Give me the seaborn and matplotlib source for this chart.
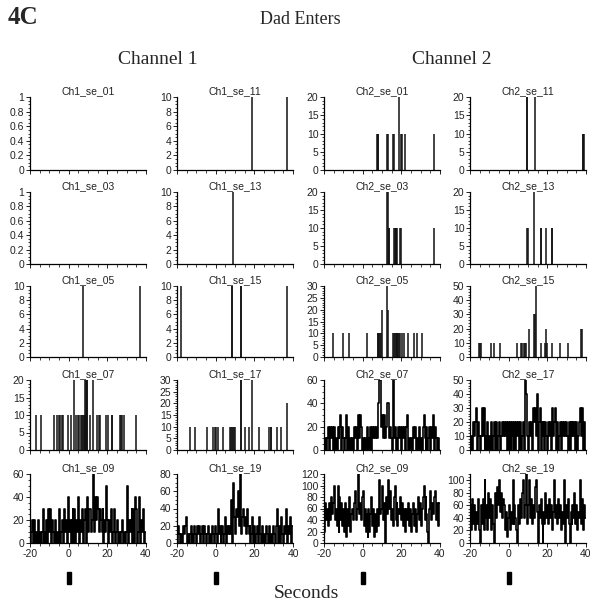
import numpy as np
import pandas as pd
import matplotlib
matplotlib.use('Agg')
import matplotlib.pyplot as plt
import seaborn as sns
from matplotlib.ticker import MultipleLocator, AutoMinorLocator, FuncFormatter
from matplotlib.transforms import blended_transform_factory
from matplotlib.patches import Rectangle

sns.set_style('ticks')
plt.rcParams['font.family'] = ['Liberation Sans', 'DejaVu Sans']
plt.rcParams['axes.unicode_minus'] = False

# ---- sparse panels: spike times (s) and bar heights ----
ch1_se_11_t = [18.9, 37.0]
ch1_se_11_h = [10, 10]
ch1_se_13_t = [9.0]
ch1_se_13_h = [10]
ch1_se_05_t = [7.5, 37.0]
ch1_se_05_h = [10, 10]
ch1_se_15_t = [-18.0, 8.4, 8.7, 13.0, 13.2, 37.1]
ch1_se_15_h = [10, 10, 10, 10, 10, 10]
ch1_se_07_t = [-16.9, -14.5, -7.4, -5.9, -4.8, -4.3, -3.6, -3.1, -0.2, 1.1, 2.8, 3.8,
               5.0, 5.6, 6.3, 7.0, 7.4, 7.8, 8.2, 8.5, 8.9, 9.3, 9.7, 11.1, 12.5,
               14.9, 15.5, 16.3, 19.4, 20.4, 22.2, 22.5, 26.3, 27.0, 27.8, 28.7, 34.9]
ch1_se_07_h = [10, 10, 10, 10, 10, 10, 10, 10, 10, 10, 20, 10,
               10, 10, 10, 10, 10, 10, 10, 20, 20, 20, 20, 10, 20,
               10, 10, 10, 10, 10, 10, 10, 10, 10, 10, 10, 10]
ch1_se_17_t = [-13.3, -10.7, -4.3, -1.2, -0.6, 0.2, 1.4, 3.7, 7.5, 8.1, 8.6, 9.1, 9.6,
               10.0, 12.9, 13.2, 15.4, 17.1, 19.0, 22.5, 27.8, 28.4, 28.8, 31.6, 33.7, 37.1]
ch1_se_17_h = [10, 10, 10, 10, 10, 10, 10, 10, 10, 10, 10, 10, 10,
               10, 30, 30, 10, 10, 30, 10, 10, 10, 10, 10, 10, 20]
ch2_se_01_t = [7.5, 7.8, 8.1, 12.8, 13.1, 15.8, 16.1, 19.0, 20.0, 20.3, 22.0, 37.0]
ch2_se_01_h = [10, 10, 10, 10, 10, 10, 10, 20, 10, 10, 10, 10]
ch2_se_11_t = [9.3, 9.6, 13.8, 38.3, 38.6, 38.9]
ch2_se_11_h = [20, 20, 20, 10, 10, 10]
ch2_se_03_t = [12.7, 13.0, 13.4, 13.7, 16.2, 16.6, 17.0, 17.4, 18.0, 19.3, 19.6, 37.0]
ch2_se_03_h = [20, 20, 10, 10, 10, 10, 10, 10, 10, 10, 10, 10]
ch2_se_13_t = [9.5, 9.8, 13.3, 16.6, 16.9, 19.3, 22.3, 22.6]
ch2_se_13_h = [10, 10, 20, 10, 10, 10, 10, 10]
ch2_se_05_t = [-15.5, -10.0, -7.2, 2.1, 7.8, 8.1, 8.4, 8.8, 9.3, 10.0, 12.8, 13.3,
               15.6, 16.0, 16.5, 17.0, 17.5, 18.0, 18.5, 19.0, 19.5, 20.2, 21.5,
               23.2, 26.3, 28.0, 30.8]
ch2_se_05_h = [10, 10, 10, 10, 10, 10, 10, 10, 10, 20, 30, 20,
               10, 10, 10, 10, 10, 10, 10, 10, 10, 10, 10,
               10, 10, 10, 10]
ch2_se_15_t = [-15.2, -14.8, -14.4, -9.0, -7.6, -4.3, 4.5, 6.3, 7.0, 7.8, 8.4, 9.0,
               10.6, 13.3, 13.7, 14.0, 16.8, 19.0, 19.4, 19.8, 22.3, 26.6, 30.6, 37.6, 38.1]
ch2_se_15_h = [10, 10, 10, 10, 10, 10, 10, 10, 10, 10, 10, 10,
               20, 30, 30, 50, 10, 10, 20, 10, 10, 10, 10, 20, 20]

# ---- dense panels: rate per 0.5 s bin, -20 s to 40 s ----
ch1_se_09 = [0, 10, 20, 0, 20, 0, 10, 0, 20, 0,
             10, 0, 10, 30, 0, 10, 0, 20, 0, 30,
             10, 30, 0, 20, 10, 0, 20, 0, 10, 0,
             30, 0, 10, 20, 0, 30, 10, 20, 0, 40,
             10, 20, 0, 20, 30, 0, 30, 0, 20, 10,
             40, 0, 20, 10, 30, 0, 20, 30, 0, 40,
             10, 30, 30, 10, 20, 60, 10, 40, 20, 40,
             30, 10, 30, 20, 10, 30, 0, 20, 10, 50,
             20, 0, 20, 10, 30, 0, 10, 30, 0, 10,
             20, 0, 10, 0, 10, 20, 0, 10, 0, 10,
             50, 0, 20, 10, 20, 30, 0, 30, 0, 40,
             30, 0, 10, 40, 0, 20, 10, 30, 0, 10]
ch1_se_19 = [0, 20, 10, 0, 10, 0, 20, 10, 20, 30,
             0, 10, 0, 10, 20, 0, 10, 0, 20, 10,
             0, 20, 10, 20, 0, 10, 20, 0, 20, 10,
             0, 10, 20, 0, 10, 0, 20, 10, 0, 20,
             10, 0, 40, 10, 20, 0, 10, 20, 0, 10,
             30, 0, 20, 10, 20, 10, 50, 0, 70, 30,
             10, 40, 30, 60, 20, 80, 10, 30, 40, 20,
             30, 10, 40, 20, 10, 20, 0, 10, 30, 0,
             20, 0, 10, 20, 0, 30, 10, 0, 20, 0,
             10, 0, 20, 10, 0, 20, 0, 10, 0, 20,
             10, 0, 20, 40, 0, 10, 20, 0, 30, 10,
             0, 20, 10, 40, 0, 20, 10, 30, 0, 20]
ch2_se_07 = [0, 10, 0, 10, 20, 0, 20, 10, 20, 0,
             20, 0, 10, 0, 20, 10, 20, 30, 0, 20,
             10, 0, 10, 30, 0, 20, 0, 10, 0, 10,
             0, 20, 10, 20, 0, 30, 10, 30, 20, 0,
             10, 0, 10, 0, 20, 0, 10, 0, 20, 0,
             20, 10, 20, 10, 20, 10, 40, 60, 60, 20,
             30, 10, 30, 10, 20, 40, 40, 10, 20, 10,
             0, 60, 10, 20, 0, 10, 0, 20, 10, 20,
             0, 20, 10, 20, 0, 20, 30, 0, 10, 0,
             10, 0, 20, 10, 20, 0, 10, 0, 20, 0,
             10, 0, 20, 30, 10, 0, 20, 0, 10, 20,
             0, 20, 10, 30, 0, 20, 10, 0, 10, 0]
ch2_se_17 = [0, 10, 0, 20, 10, 20, 30, 0, 20, 10,
             0, 10, 30, 10, 30, 0, 10, 0, 20, 0,
             10, 0, 20, 0, 10, 20, 0, 20, 0, 10,
             20, 0, 10, 20, 10, 20, 10, 20, 0, 20,
             0, 20, 0, 20, 10, 0, 20, 0, 20, 10,
             20, 0, 20, 0, 10, 20, 0, 50, 40, 10,
             0, 20, 10, 20, 0, 30, 20, 30, 10, 40,
             0, 20, 30, 0, 20, 10, 20, 0, 20, 10,
             0, 20, 10, 20, 0, 30, 10, 20, 30, 0,
             20, 0, 10, 20, 0, 20, 10, 20, 10, 20,
             10, 0, 20, 0, 20, 10, 20, 10, 20, 0,
             20, 0, 10, 20, 30, 10, 30, 0, 20, 0]
ch2_se_09 = [20, 70, 40, 60, 30, 70, 40, 80, 50, 70,
             100, 40, 60, 30, 100, 20, 80, 40, 70, 30,
             60, 20, 70, 10, 60, 30, 80, 20, 50, 60,
             40, 70, 90, 40, 60, 120, 50, 70, 40, 80,
             90, 30, 60, 20, 50, 10, 60, 20, 50, 80,
             30, 60, 10, 50, 20, 60, 30, 110, 50, 60,
             100, 40, 70, 0, 80, 50, 110, 60, 90, 40,
             60, 30, 80, 100, 40, 70, 30, 60, 50, 80,
             40, 70, 30, 60, 20, 60, 40, 70, 30, 60,
             20, 50, 70, 30, 60, 20, 50, 80, 40, 70,
             30, 60, 80, 100, 40, 80, 50, 20, 0, 60,
             90, 40, 70, 50, 80, 90, 40, 70, 30, 70]
ch2_se_19 = [60, 20, 70, 30, 60, 20, 50, 30, 70, 20,
             0, 60, 30, 70, 20, 100, 40, 60, 20, 80,
             40, 70, 20, 60, 30, 0, 80, 40, 90, 60,
             100, 50, 80, 40, 70, 60, 20, 50, 10, 40,
             60, 20, 50, 30, 100, 30, 60, 40, 20, 0,
             60, 30, 70, 40, 80, 100, 40, 60, 110, 30,
             60, 100, 40, 70, 30, 60, 40, 90, 100, 50,
             0, 60, 40, 70, 30, 0, 50, 30, 80, 40,
             60, 30, 70, 40, 60, 20, 50, 100, 40, 60,
             30, 70, 40, 60, 20, 50, 30, 100, 0, 60,
             40, 70, 30, 0, 50, 30, 60, 40, 80, 30,
             60, 20, 50, 40, 100, 30, 70, 20, 60, 40]

# event marker (Dad enters) in seconds
event_on, event_off = -1.0, 1.0

# grid: (title, data, ymax, ystep) row by row
grid = [
    [('Ch1_se_01', None, 1, 0.2), ('Ch1_se_11', (ch1_se_11_t, ch1_se_11_h), 10, 2),
     ('Ch2_se_01', (ch2_se_01_t, ch2_se_01_h), 20, 5), ('Ch2_se_11', (ch2_se_11_t, ch2_se_11_h), 20, 5)],
    [('Ch1_se_03', None, 1, 0.2), ('Ch1_se_13', (ch1_se_13_t, ch1_se_13_h), 10, 2),
     ('Ch2_se_03', (ch2_se_03_t, ch2_se_03_h), 20, 5), ('Ch2_se_13', (ch2_se_13_t, ch2_se_13_h), 20, 5)],
    [('Ch1_se_05', (ch1_se_05_t, ch1_se_05_h), 10, 2), ('Ch1_se_15', (ch1_se_15_t, ch1_se_15_h), 10, 2),
     ('Ch2_se_05', (ch2_se_05_t, ch2_se_05_h), 30, 5), ('Ch2_se_15', (ch2_se_15_t, ch2_se_15_h), 50, 10)],
    [('Ch1_se_07', (ch1_se_07_t, ch1_se_07_h), 20, 5), ('Ch1_se_17', (ch1_se_17_t, ch1_se_17_h), 30, 5),
     ('Ch2_se_07', ch2_se_07, 60, 20), ('Ch2_se_17', ch2_se_17, 50, 10)],
    [('Ch1_se_09', ch1_se_09, 60, 20), ('Ch1_se_19', ch1_se_19, 80, 20),
     ('Ch2_se_09', ch2_se_09, 120, 20), ('Ch2_se_19', ch2_se_19, 110, 20)],
]

W, H = 602, 610
fig = plt.figure(figsize=(W / 100, H / 100), dpi=100)
lefts = [30, 177, 324, 470]
tops = [97, 192, 286, 380, 474]
bots = [170, 264, 357, 450, 543]
aw = 116

fmt = FuncFormatter(lambda v, p: '%g' % v)
for r, row in enumerate(grid):
    for c, (title, data, ymax, ystep) in enumerate(row):
        ax = fig.add_axes([lefts[c] / W, 1 - bots[r] / H, aw / W, (bots[r] - tops[r]) / H])
        if isinstance(data, tuple):
            ax.vlines(data[0], 0, data[1], color='#111111', lw=1.1)
        elif data is not None:
            df = pd.DataFrame({'t': -19.75 + 0.5 * np.arange(len(data)), 'rate': data})
            sns.lineplot(data=df, x='t', y='rate', ax=ax, estimator=None,
                         drawstyle='steps-mid', color='black', lw=1.2)
        ax.set(xlabel='', ylabel='')
        ax.set_xlim(-20, 40)
        ax.set_ylim(0, ymax)
        ax.xaxis.set_major_locator(MultipleLocator(20))
        ax.xaxis.set_minor_locator(MultipleLocator(5))
        ax.yaxis.set_major_locator(MultipleLocator(ystep))
        ax.yaxis.set_minor_locator(AutoMinorLocator())
        ax.yaxis.set_major_formatter(fmt)
        ax.xaxis.set_major_formatter(fmt)
        sns.despine(ax=ax)
        for s in ['left', 'bottom']:
            ax.spines[s].set_linewidth(0.9)
            ax.spines[s].set_color('black')
        ax.tick_params(which='major', length=3, width=0.7, labelsize=7.5, pad=1,
                       colors='#222222')
        ax.tick_params(which='minor', length=1.8, width=0.6, colors='#222222')
        if r < 4:
            ax.tick_params(axis='x', labelbottom=False)
        ax.set_title(title, fontsize=7.5, pad=2, color='#222222')
        if r == 4:
            tr = blended_transform_factory(ax.transData, fig.transFigure)
            ax.add_patch(Rectangle((event_on, 1 - 584 / H), event_off - event_on, 12 / H,
                                   transform=tr, color='black', clip_on=False))

serif = ['Liberation Serif', 'DejaVu Serif']
fig.text(8 / W, 1 - 18 / H, '4C', family=serif, weight='bold', size=18, va='center', ha='left')
fig.text(300 / W, 1 - 20 / H, 'Dad Enters', family=serif, size=13, va='center', ha='center')
fig.text(158 / W, 1 - 60 / H, 'Channel 1', family=serif, size=14, va='center', ha='center')
fig.text(452 / W, 1 - 60 / H, 'Channel 2', family=serif, size=14, va='center', ha='center')
fig.text(306 / W, 1 - 593 / H, 'Seconds', family=serif, size=14, va='center', ha='center')

fig.savefig('out.png', dpi=100, facecolor='white')
